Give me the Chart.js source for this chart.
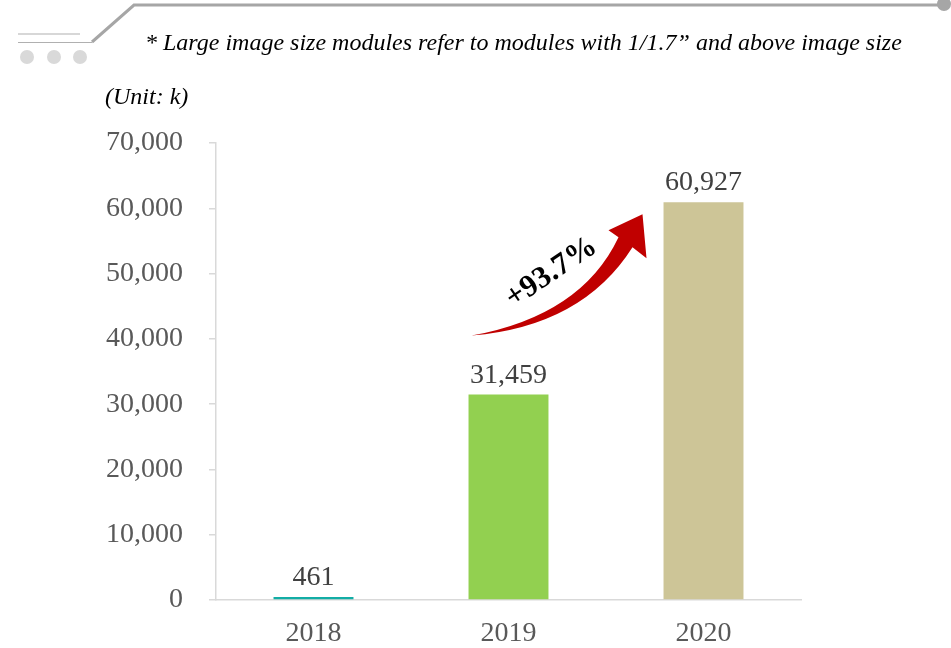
<!DOCTYPE html>
<html>
<head>
<meta charset="utf-8">
<script src="https://cdn.jsdelivr.net/npm/chart.js@4"></script>
<style>
  html, body { margin: 0; padding: 0; background: #fff; }
  #wrap { position: relative; width: 951px; height: 648px; overflow: hidden; }
  #chart { position: absolute; left: 0; top: 0; }
  .note { position: absolute; left: 145px; top: 29px; font: italic 24px "Liberation Serif", "Times New Roman", serif; color: #000; white-space: nowrap; }
  .unit { position: absolute; left: 105px; top: 83px; font: italic 24px "Liberation Serif", "Times New Roman", serif; color: #000; white-space: nowrap; }
</style>
</head>
<body>
<div id="wrap">
  <canvas id="chart" width="951" height="648"></canvas>
  <div class="note">* Large image size modules refer to modules with 1/1.7” and above image size</div>
  <div class="unit">(Unit: k)</div>
</div>
<script>
const years = ['2018', '2019', '2020'];
const volumes = [461, 31459, 60927];
const barColors = ['#12ada5', '#92d050', '#cdc597'];
const yTicks = [0, 10000, 20000, 30000, 40000, 50000, 60000, 70000];
const growthLabel = '+93.7%';

const serif = '"Liberation Serif", "Times New Roman", serif';

// header ornament: lines + dots at the top left
const ornament = {
    id: 'ornament',
    beforeDraw(chart) {
        const c = chart.ctx;
        c.save();
        c.strokeStyle = '#a6a6a6';
        c.lineWidth = 3;
        c.beginPath();
        c.moveTo(92, 42);
        c.lineTo(134, 5);
        c.lineTo(944, 5);
        c.stroke();
        c.lineWidth = 1.2;
        c.strokeStyle = '#b0b0b0';
        c.beginPath();
        c.moveTo(18, 34); c.lineTo(80, 34);
        c.moveTo(18, 42.5); c.lineTo(92, 42.5);
        c.stroke();
        c.fillStyle = '#a6a6a6';
        c.beginPath();
        c.arc(944, 4, 7, 0, Math.PI * 2);
        c.fill();
        c.fillStyle = '#d9d9d9';
        [27, 54, 80].forEach(x => {
            c.beginPath();
            c.arc(x, 57, 7, 0, Math.PI * 2);
            c.fill();
        });
        c.restore();
    }
};

// value labels above bars + growth arrow
const extras = {
    id: 'extras',
    afterDatasetsDraw(chart) {
        const c = chart.ctx;
        const meta = chart.getDatasetMeta(0);
        c.save();
        c.fillStyle = '#404040';
        c.font = '28px ' + serif;
        c.textAlign = 'center';
        c.textBaseline = 'alphabetic';
        meta.data.forEach((bar, i) => {
            c.fillText(volumes[i].toLocaleString('en-US'), bar.x, bar.y - 12);
        });

        // curved arrow from 2019 bar towards 2020 bar
        const b1 = meta.data[1], b2 = meta.data[2];
        const tx = b1.x - 37, ty = b1.y - 59;
        const hx = b2.x - 61, hy = b2.y + 12;
        c.fillStyle = '#c00000';
        c.beginPath();
        c.moveTo(tx, ty);
        c.quadraticCurveTo(tx + 110, ty - 20, hx - 24, hy + 23);
        c.lineTo(hx - 34, hy + 16);
        c.lineTo(hx, hy);
        c.lineTo(hx + 4, hy + 44);
        c.lineTo(hx - 10, hy + 33);
        c.quadraticCurveTo(hx - 60, hy + 112, tx, ty);
        c.closePath();
        c.fill();

        c.translate(b1.x + 43, b1.y - 122);
        c.rotate(-34 * Math.PI / 180);
        c.fillStyle = '#000';
        c.font = 'bold 31px ' + serif;
        c.textAlign = 'center';
        c.textBaseline = 'middle';
        c.fillText(growthLabel, 0, 0);
        c.restore();
    }
};

const ctx = document.getElementById('chart').getContext('2d');
const volumeChart = new Chart(ctx, {
    type: 'bar',
    data: {
        labels: years,
        datasets: [{
            data: volumes,
            backgroundColor: barColors,
            categoryPercentage: 1,
            barPercentage: 0.41
        }]
    },
    options: {
        responsive: false,
        animation: false,
        layout: { padding: { left: 0, top: 143, right: 150, bottom: 0 } },
        plugins: { legend: { display: false }, tooltip: { enabled: false } },
        scales: {
            x: {
                grid: { display: false, drawTicks: false },
                border: { color: '#d9d9d9', width: 1.5 },
                ticks: { color: '#595959', font: { family: serif, size: 28 }, padding: 17 },
                afterFit(scale) { scale.height = 48; }
            },
            y: {
                min: 0,
                max: 70000,
                grid: { display: true, drawOnChartArea: false, drawTicks: true, tickLength: 7, color: '#d9d9d9', lineWidth: 1.5 },
                border: { color: '#d9d9d9', width: 1.5 },
                afterBuildTicks(scale) { scale.ticks = yTicks.map(v => ({ value: v })); },
                ticks: {
                    color: '#595959',
                    font: { family: serif, size: 28 },
                    padding: 26,
                    callback: v => v.toLocaleString('en-US')
                },
                afterFit(scale) { scale.width = 216; }
            }
        }
    },
    plugins: [ornament, extras]
});
</script>
</body>
</html>
